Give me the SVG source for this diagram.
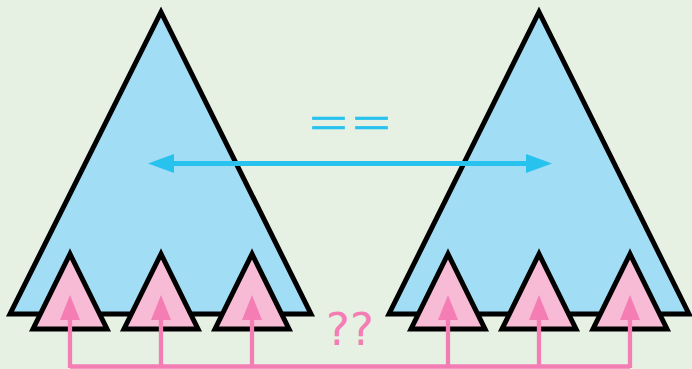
<svg xmlns="http://www.w3.org/2000/svg" width="692" height="369" viewBox="0 0 692 369">
<defs>
<style>
.big{fill:#a2ddf6;stroke:#000;stroke-width:5;stroke-linejoin:miter;stroke-miterlimit:10}
.small{fill:#f8bbd6;stroke:#000;stroke-width:5;stroke-linejoin:miter;stroke-miterlimit:10}
.pk{fill:none;stroke:#f47db4;stroke-width:4.3}
.bl{fill:none;stroke:#28c2ee;stroke-width:5}
.eq{font-family:"DejaVu Sans",sans-serif;font-weight:200;fill:#28c2ee;stroke:#28c2ee;stroke-width:0.7}
.q{font-family:"DejaVu Sans",sans-serif;fill:#f47db4}
</style>
<marker id="pa" markerUnits="userSpaceOnUse" markerWidth="20" markerHeight="25" refX="10" refY="25" viewBox="0 0 20 25" orient="0"><path d="M0,25 L10,0 L20,25 Z" fill="#f47db4"/></marker>
</defs>
<rect width="692" height="369" fill="#e6f1e4"/>
<g id="treeL"><polygon class="big" points="161,12 10,314 311,314"/></g>
<g id="treeR"><polygon class="big" points="539,12 389,314 689,314"/></g>
<g id="subL1"><polygon class="small" points="70,254 33,329 107,329"/></g>
<g id="subL2"><polygon class="small" points="161,254 124,329 198,329"/></g>
<g id="subL3"><polygon class="small" points="252,254 215,329 289,329"/></g>
<g id="subR1"><polygon class="small" points="448,254 411,329 485,329"/></g>
<g id="subR2"><polygon class="small" points="539,254 502,329 576,329"/></g>
<g id="subR3"><polygon class="small" points="630,254 593,329 667,329"/></g>
<g id="connectors">
<path class="pk" d="M70,366.5 H630"/>
<path class="pk" d="M70,368 V320" marker-end="url(#pa)"/>
<path class="pk" d="M161,368 V320" marker-end="url(#pa)"/>
<path class="pk" d="M252,368 V320" marker-end="url(#pa)"/>
<path class="pk" d="M448,368 V320" marker-end="url(#pa)"/>
<path class="pk" d="M539,368 V320" marker-end="url(#pa)"/>
<path class="pk" d="M630,368 V320" marker-end="url(#pa)"/>
<path class="bl" d="M172,163.5 H528"/>
<path d="M148,163.5 L174,154 L174,173 Z" fill="#28c2ee"/>
<path d="M552,163.5 L526,154 L526,173 Z" fill="#28c2ee"/>
</g>
<text class="eq" x="307" y="142" font-size="60" textLength="86" lengthAdjust="spacingAndGlyphs">==</text>
<text class="q" x="326" y="345" font-size="45">??</text>
</svg>
